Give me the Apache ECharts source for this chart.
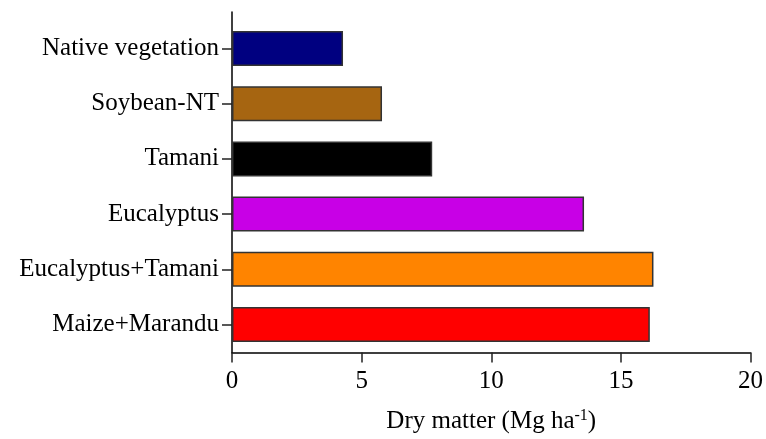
<!DOCTYPE html>
<html>
<head>
<meta charset="utf-8">
<script src="https://cdn.jsdelivr.net/npm/echarts@6/dist/echarts.min.js"></script>
<style>html,body{margin:0;padding:0;background:#fff}#c{width:766px;height:439px}</style>
</head>
<body>
<div id="c"></div>
<script>
var categories = ["Native vegetation", "Soybean-NT", "Tamani", "Eucalyptus", "Eucalyptus+Tamani", "Maize+Marandu"];
var dryMatter = [4.27, 5.77, 7.70, 13.54, 16.21, 16.07];
var xTicks = [0, 5, 10, 15, 20];
var barColors = ["#000080", "#A66511", "#000000", "#C800E6", "#FF8400", "#FF0000"];

var font = "Liberation Serif";
var chart = echarts.init(document.getElementById('c'), null, {renderer: 'canvas'});
chart.setOption({
  animation: false,
  backgroundColor: '#fff',
  grid: [
    {left: 232, right: 14, top: 12, bottom: 81},
    {left: 232, right: 14, top: 21, bottom: 87}
  ],
  xAxis: [
    {
      gridIndex: 0, type: 'value', min: xTicks[0], max: xTicks[xTicks.length - 1], interval: 5,
      axisLine: {show: true, lineStyle: {color: '#000', width: 1.5}},
      axisTick: {show: true, length: 10, lineStyle: {color: '#222', width: 1.5}},
      axisLabel: {color: '#000', fontFamily: font, fontSize: 25, margin: 16},
      splitLine: {show: false},
      name: '{a|Dry matter (Mg ha}{s|-1}{a|)}',
      nameLocation: 'middle', nameGap: 55,
      nameTextStyle: {
        rich: {
          a: {fontFamily: font, fontSize: 25, color: '#000'},
          s: {fontFamily: font, fontSize: 16, color: '#000', verticalAlign: 'top', padding: [0, 0, 12, 0]}
        }
      }
    },
    {
      gridIndex: 1, type: 'value', min: 0, max: 20, show: false
    }
  ],
  yAxis: [
    {
      gridIndex: 0, type: 'value', min: 0, max: 1,
      axisLine: {show: true, lineStyle: {color: '#000', width: 1.5}},
      axisTick: {show: false}, axisLabel: {show: false}, splitLine: {show: false}
    },
    {
      gridIndex: 1, type: 'category', data: categories, inverse: true,
      axisLine: {show: false},
      axisTick: {show: true, length: 10, alignWithLabel: true, lineStyle: {color: '#222', width: 1.5}},
      axisLabel: {color: '#000', fontFamily: font, fontSize: 25, margin: 13},
      splitLine: {show: false}
    }
  ],
  series: [{
    type: 'bar',
    xAxisIndex: 1, yAxisIndex: 1,
    barWidth: 35,
    data: dryMatter.map(function (v, i) {
      return {value: v, itemStyle: {color: barColors[i], borderColor: '#333', borderWidth: 1.5}};
    })
  }]
});
</script>
</body>
</html>
